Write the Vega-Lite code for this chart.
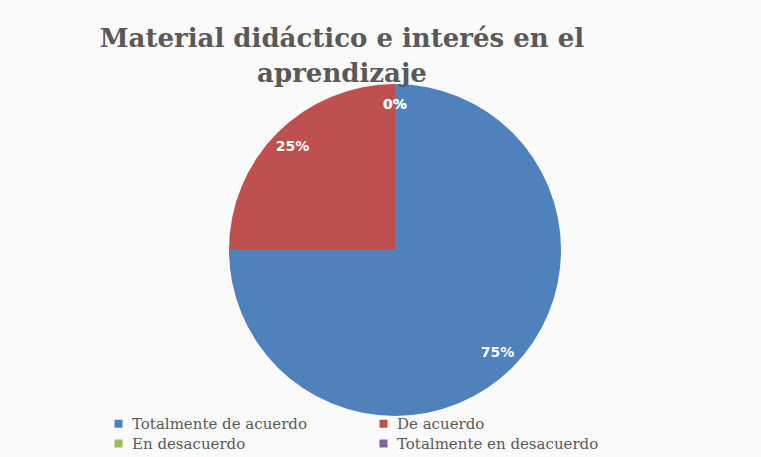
{
  "$schema": "https://vega.github.io/schema/vega-lite/v6.json",
  "autosize": "none",
  "width": 400,
  "height": 324,
  "padding": {"left": 195, "top": 88, "right": 166, "bottom": 45},
  "background": "#fafafa",
  "title": {
    "text": ["Material didáctico e interés en el", "aprendizaje"],
    "font": "DejaVu Serif",
    "fontSize": 26,
    "fontWeight": "bold",
    "color": "#595959",
    "anchor": "middle",
    "dx": -53,
    "offset": -3,
    "lineHeight": 35
  },
  "data": {
    "values": [
      {"categoria": "Totalmente de acuerdo", "valor": 0.75, "orden": 1},
      {"categoria": "De acuerdo", "valor": 0.25, "orden": 2},
      {"categoria": "En desacuerdo", "valor": 0, "orden": 3},
      {"categoria": "Totalmente en desacuerdo", "valor": 0, "orden": 4}
    ]
  },
  "encoding": {
    "theta": {"field": "valor", "type": "quantitative", "stack": true},
    "order": {"field": "orden", "type": "quantitative"}
  },
  "layer": [
    {
      "mark": {"type": "arc", "outerRadius": 166},
      "encoding": {
        "color": {
          "field": "categoria",
          "type": "nominal",
          "scale": {
            "domain": ["Totalmente de acuerdo", "De acuerdo", "En desacuerdo", "Totalmente en desacuerdo"],
            "range": ["#4F81BD", "#C0504D", "#9BBB59", "#8064A2"]
          },
          "legend": {
            "title": null,
            "orient": "none",
            "legendX": -84,
            "legendY": 328,
            "direction": "horizontal",
            "columns": 2,
            "columnPadding": 68,
            "rowPadding": 4,
            "symbolType": "square",
            "symbolSize": 64,
            "symbolStrokeWidth": 0,
            "labelFont": "DejaVu Serif",
            "labelFontSize": 15,
            "labelColor": "#595959",
            "labelOffset": 6,
            "labelLimit": 400
          }
        }
      }
    },
    {
      "mark": {"type": "text", "radius": 145, "font": "DejaVu Sans", "fontWeight": "bold", "fontSize": 14},
      "encoding": {
        "detail": {"field": "categoria", "type": "nominal"},
        "color": {"value": "white"},
        "text": {"field": "valor", "type": "quantitative", "format": ".0%"}
      }
    }
  ]
}
